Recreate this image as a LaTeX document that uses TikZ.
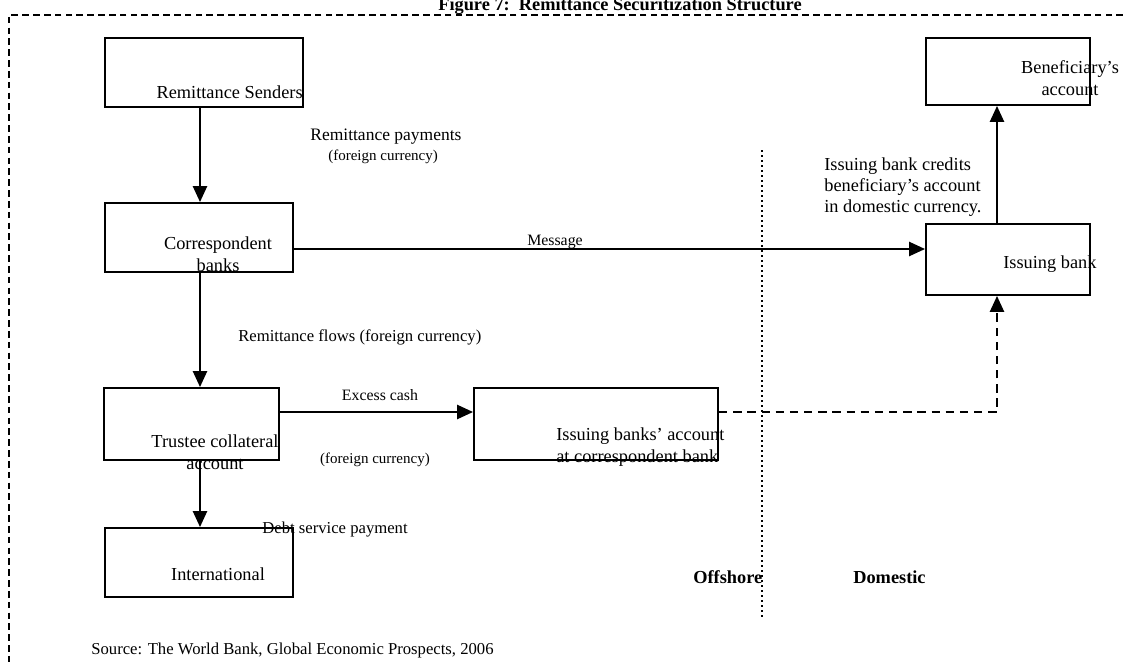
\documentclass[tikz,border=0pt]{standalone}
\usepackage{fontspec}
\setmainfont{Liberation Serif}
\usetikzlibrary{calc}
\usetikzlibrary{arrows.meta}
\usetikzlibrary{fit}
\tikzset{
	box/.style={
		draw,
		rectangle,
		line width=1.2pt,
		inner sep=0pt,
	},
	flow/.style={
		line width=1pt,
		-{Triangle[length=9.5pt,width=8.5pt]}
	},
	maybe/.style={dash pattern=on 5pt off 3.5pt},
	boxtext/.style={font=\fontsize{11}{13.2}\selectfont, inner sep=0pt},
	note/.style={font=\fontsize{10}{12}\selectfont, inner sep=0pt},
	side/.style={font=\fontsize{11}{13}\selectfont\bfseries, inner sep=0pt},
	frame/.style={line width=0.9pt, dash pattern=on 4pt off 2.5pt},
	divider/.style={line width=1pt, dotted},
}
\begin{document}
\begin{tikzpicture}[x=0.6pt,y=-0.6pt]
		\useasboundingbox (0,0) rectangle (1123,662);

		% outer frame and title
		\draw[frame] (1123,15) -- (9,15) -- (9,662);
		\node[side, anchor=base] (title) at (620,10) {Figure 7:\enspace Remittance Securitization Structure};

		% boxes
		\node[box, fit={(105,38) (303,107)}] (senders) {};
		\node[box, fit={(105,203) (293,272)}] (corr) {};
		\node[box, fit={(104,388) (279,460)}] (trustee) {};
		\node[box, fit={(105,528) (293,597)}] (intl) {};
		\node[box, fit={(474,388) (718,460)}] (iba) {};
		\node[box, fit={(926,224) (1090,295)}] (ibank) {};
		\node[box, fit={(926,38) (1090,105)}] (benef) {};

		% texts inside the boxes
		\node[boxtext, anchor=base east] (senderstxt) at (303,98) {Remittance Senders};
		\node[boxtext, align=center] (corrtxt) at (218,254) {Correspondent\\banks};
		\node[boxtext, align=center] (trusteetxt) at (215,452) {Trustee collateral\\account};
		\node[boxtext, anchor=base] (intltxt) at (218,580) {International};
		\node[boxtext, align=left, anchor=west] (ibatxt) at (556,447) {Issuing banks' account\\at correspondent bank};
		\node[boxtext, anchor=base west] (ibanktxt) at (1003,268) {Issuing bank};
		\node[boxtext, align=center] (beneftxt) at (1070,78) {Beneficiary's\\account};

		% connectors
		\coordinate (spine) at (200,0);
		\coordinate (msg) at (0,249);
		\coordinate (cash) at (0,412);
		\coordinate (turn) at (997,412);
		\draw[flow] (spine |- senders.south) -- (spine |- corr.north);
		\draw[flow] (spine |- corr.south) -- (spine |- trustee.north);
		\draw[flow] (spine |- trustee.south) -- (spine |- intl.north);
		\draw[flow] (corr.east |- msg) -- (ibank.west |- msg);
		\draw[flow] (trustee.east |- cash) -- (iba.west |- cash);
		\draw[flow, maybe] (iba.east |- turn) -- (turn) -- (turn |- ibank.south);
		\draw[flow] (turn |- ibank.north) -- (turn |- benef.south);

		% labels
		\node[note, anchor=base west, font=\fontsize{10.5}{12}\selectfont] (paylbl) at (310,140) {Remittance payments};
		\node[note, anchor=base west, font=\fontsize{9}{11}\selectfont] (paycur) at (328,160) {(foreign currency)};
		\node[note, anchor=base, font=\fontsize{9.5}{11}\selectfont] (msglbl) at (555,245) {Message};
		\node[note, anchor=base west] (flowlbl) at (238,341) {Remittance flows (foreign currency)};
		\node[note, anchor=base, font=\fontsize{9.5}{11}\selectfont] (cashlbl) at (380,400) {Excess cash};
		\node[note, anchor=base, font=\fontsize{9}{11}\selectfont] (cashcur) at (375,463) {(foreign currency)};
		\node[boxtext, align=left, anchor=west, font=\fontsize{11}{12.6}\selectfont] (creditlbl) at (824,187) {Issuing bank credits\\beneficiary's account\\in domestic currency.};
		\node[note, anchor=base west] (debtlbl) at (262,533) {Debt service payment};

		% offshore / domestic split
		\draw[divider] (762,150) -- (762,617);
		\node[side, anchor=base west] (offshore) at (693,583) {Offshore};
		\node[side, anchor=base west] (domestic) at (853,583) {Domestic};

		\node[note, anchor=base west] (source) at (91,654) {Source: The World Bank, Global Economic Prospects, 2006};

	\end{tikzpicture}
\end{document}
